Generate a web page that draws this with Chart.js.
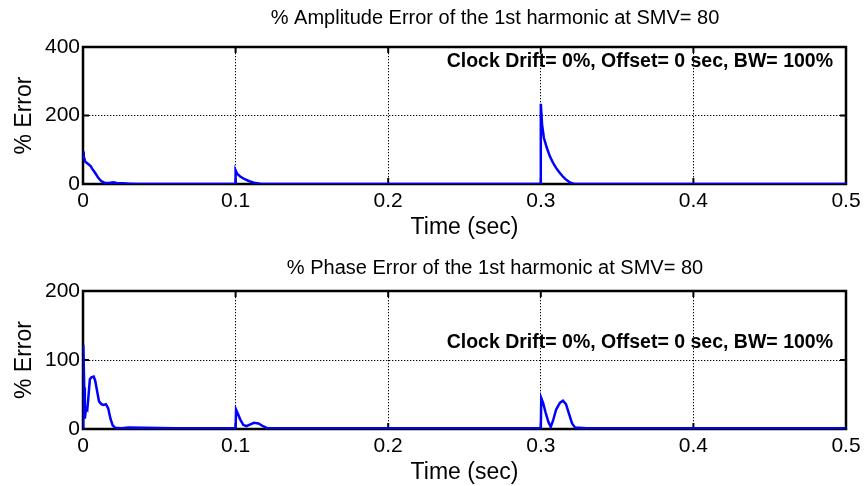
<!DOCTYPE html>
<html>
<head>
<meta charset="utf-8">
<script src="https://cdn.jsdelivr.net/npm/chart.js@4.4.1/dist/chart.umd.min.js"></script>
<style>
  body { margin: 0; background: #fff; }
  canvas { display: block; }
</style>
</head>
<body>
<canvas id="ampChart" width="866" height="243"></canvas>
<canvas id="phaseChart" width="866" height="243"></canvas>
<script>
// % amplitude error of the 1st harmonic, time in sec
const ampTime = [0, 0.0005, 0.0015, 0.003, 0.005, 0.006, 0.008, 0.010, 0.012, 0.014, 0.017, 0.020, 0.022, 0.026, 0.030, 0.035,
  0.1, 0.1, 0.101, 0.103, 0.106, 0.109, 0.112, 0.116, 0.120,
  0.3, 0.3, 0.3008, 0.302, 0.304, 0.306, 0.308, 0.310, 0.312, 0.314, 0.316, 0.318, 0.320, 0.322, 0.5];
const ampErr = [95, 80, 65, 60, 52, 45, 32, 18, 8, 4, 3, 5, 3, 2, 1, 0,
  0, 40, 30, 22, 14, 8, 4, 1, 0,
  0, 234, 175, 135, 105, 80, 62, 47, 35, 24, 15, 8, 3, 0, 0];

// % phase error of the 1st harmonic, time in sec
const phaseTime = [0, 0.0002, 0.0008, 0.0012, 0.002, 0.0028, 0.0035, 0.0045, 0.0055, 0.007, 0.008, 0.009, 0.0105, 0.012, 0.0135,
  0.015, 0.0165, 0.018, 0.0195, 0.021, 0.025, 0.03, 0.06,
  0.1, 0.1003, 0.1015, 0.103, 0.105, 0.107, 0.109, 0.112, 0.115, 0.118, 0.121, 0.2,
  0.3, 0.3003, 0.3015, 0.303, 0.305, 0.3065, 0.308, 0.310, 0.3125, 0.3145, 0.3165, 0.3185, 0.3205, 0.3225, 0.33, 0.4, 0.5];
const phaseErr = [0, 122, 60, 15, 30, 28, 45, 72, 75, 76, 70, 58, 40, 36, 35,
  36, 30, 15, 5, 2, 1, 2, 1,
  1, 28, 22, 14, 6, 4, 6, 9, 8, 4, 1, 1,
  1, 45, 38, 25, 10, 3, 12, 28, 38, 41, 36, 22, 8, 2, 1, 1, 1];

const xTicks = [0, 0.1, 0.2, 0.3, 0.4, 0.5];
const ampTicks = [0, 200, 400];
const phaseTicks = [0, 100, 200];
const note = 'Clock Drift= 0%, Offset= 0 sec, BW= 100%';

const FONT = '"Liberation Sans", Arial, Helvetica, sans-serif';

// boxed axes with inward tick marks, the plot title and the settings note
const axesBox = {
  id: 'axesBox',
  beforeDatasetsDraw(chart) {
    const { ctx, chartArea: a, scales: { x, y } } = chart;
    const len = 6;
    ctx.save();
    ctx.strokeStyle = '#000';
    ctx.lineWidth = 2;
    ctx.beginPath();
    x.ticks.forEach(t => {
      const px = x.getPixelForValue(t.value);
      ctx.moveTo(px, a.bottom); ctx.lineTo(px, a.bottom - len);
      ctx.moveTo(px, a.top); ctx.lineTo(px, a.top + len);
    });
    y.ticks.forEach(t => {
      const py = y.getPixelForValue(t.value);
      ctx.moveTo(a.left, py); ctx.lineTo(a.left + len, py);
      ctx.moveTo(a.right, py); ctx.lineTo(a.right - len, py);
    });
    ctx.stroke();
    ctx.lineWidth = 2.5;
    ctx.strokeRect(a.left, a.top, a.right - a.left, a.bottom - a.top);
    ctx.restore();
  },
  afterDatasetsDraw(chart, args, opts) {
    const { ctx, chartArea: a } = chart;
    ctx.save();
    ctx.fillStyle = '#000';
    ctx.textBaseline = 'middle';
    ctx.font = '20px ' + FONT;
    ctx.textAlign = 'center';
    ctx.fillText(opts.title, opts.titleX, opts.titleY);
    ctx.font = 'bold 19.5px ' + FONT;
    ctx.textAlign = 'right';
    ctx.fillText(opts.text, a.right - 13, a.top + opts.noteDy);
    ctx.restore();
  }
};

function innerOnly(ticks) {
  const lo = ticks[0], hi = ticks[ticks.length - 1];
  return c => (c.tick && c.tick.value > lo && c.tick.value < hi) ? '#000' : 'rgba(0,0,0,0)';
}

function makeChart(id, title, times, values, yTicks, lay) {
  return new Chart(document.getElementById(id), {
    type: 'line',
    data: {
      datasets: [{
        data: times.map((t, i) => ({ x: t, y: values[i] })),
        borderColor: '#0000ff',
        borderWidth: 2.5,
        pointRadius: 0,
        tension: 0
      }]
    },
    options: {
      responsive: false,
      animation: false,
      devicePixelRatio: 1,
      layout: { padding: { left: 0, right: 20, top: lay.top, bottom: 0 } },
      plugins: {
        legend: { display: false },
        tooltip: { enabled: false },
        title: { display: false },
        axesBox: { text: note, title: title, titleX: 495, titleY: lay.titleY, noteDy: lay.noteDy }
      },
      scales: {
        x: {
          type: 'linear',
          min: xTicks[0],
          max: xTicks[xTicks.length - 1],
          afterBuildTicks: s => { s.ticks = xTicks.map(v => ({ value: v })); },
          afterFit: s => { s.height = lay.xHeight; },
          ticks: {
            color: '#000',
            font: { family: FONT, size: 21 },
            padding: 5,
            maxRotation: 0,
            autoSkip: false,
            callback: v => v === 0 ? '0' : v.toFixed(1)
          },
          grid: { color: innerOnly(xTicks), lineWidth: 1, drawTicks: false },
          border: { display: false, dash: [1.3, 1.7] },
          title: {
            display: true,
            text: 'Time (sec)',
            color: '#000',
            font: { family: FONT, size: 23 },
            padding: { top: 0, bottom: lay.xTitlePad }
          }
        },
        y: {
          type: 'linear',
          min: yTicks[0],
          max: yTicks[yTicks.length - 1],
          afterBuildTicks: s => { s.ticks = yTicks.map(v => ({ value: v })); },
          afterFit: s => { s.width = 83; },
          ticks: {
            color: '#000',
            font: { family: FONT, size: 21 },
            padding: 3
          },
          grid: { color: innerOnly(yTicks), lineWidth: 1, drawTicks: false },
          border: { display: false, dash: [1.3, 1.7] },
          title: {
            display: true,
            text: '% Error',
            color: '#000',
            font: { family: FONT, size: 23 },
            padding: { top: 11, bottom: 0 }
          }
        }
      }
    },
    plugins: [axesBox]
  });
}

makeChart('ampChart', '% Amplitude Error of the 1st harmonic at SMV= 80',
  ampTime, ampErr, ampTicks, { top: 47, xHeight: 59, titleY: 18, noteDy: 15, xTitlePad: 2 });
makeChart('phaseChart', '% Phase Error of the 1st harmonic at SMV= 80',
  phaseTime, phaseErr, phaseTicks, { top: 48, xHeight: 57, titleY: 25, noteDy: 52, xTitlePad: 0 });
</script>
</body>
</html>
